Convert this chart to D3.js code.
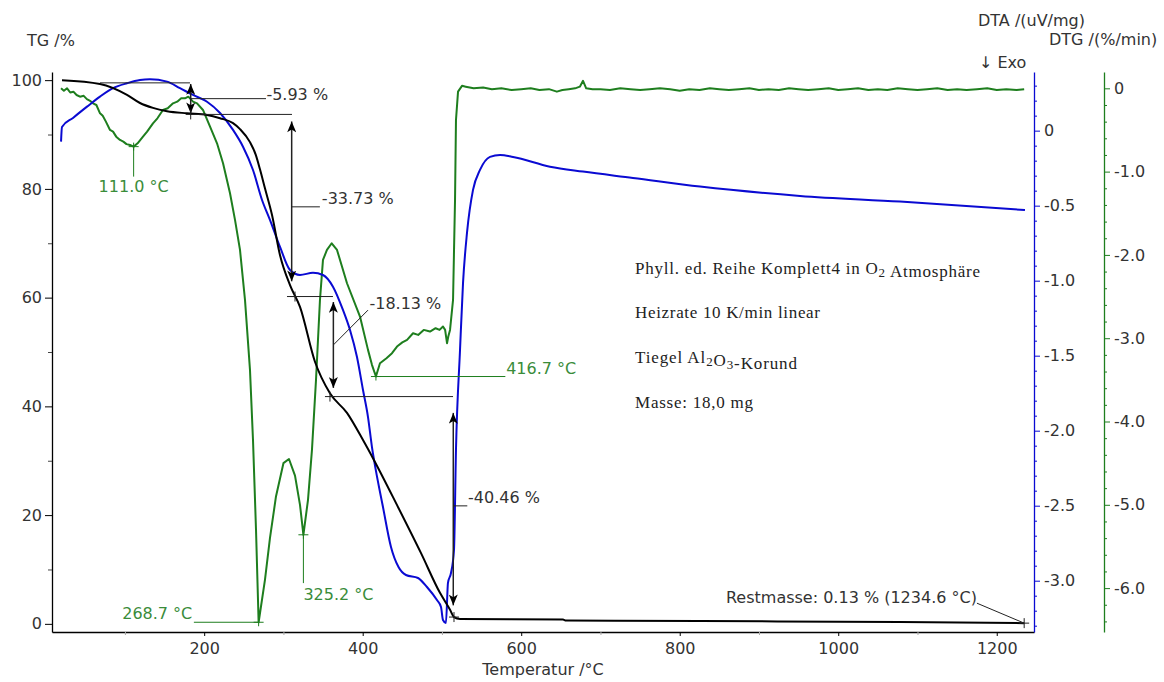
<!DOCTYPE html>
<html><head><meta charset="utf-8">
<script src="https://cdn.jsdelivr.net/npm/d3@7"></script>
<style>body{margin:0;background:#fff}</style>
</head><body>
<svg id="c" width="1164" height="682"></svg>
<script>
// ---------------- DATA ----------------
const tgT = [20.6, 68.6, 102.6, 119, 135.4, 153.1, 178.3, 203.6, 220, 236.4, 245.2, 257.8, 265, 270.4, 276.7, 285.6, 295.7, 308.3, 320.9, 339.8, 358.7, 380.2, 400.4, 414.3, 444.5, 473.6, 497.5, 510.2, 515.2, 522.8, 652.7, 656.5, 825.6, 1077.9, 1234.6];
const tgV = [100.0, 99.3, 97.3, 95.8, 94.9, 94.3, 93.9, 93.6, 93.0, 92.1, 91.0, 88.6, 86.3, 83.6, 80.1, 75.2, 67.8, 62.3, 58.3, 48.2, 42.4, 38.8, 33.8, 30.1, 21.5, 13.0, 5.7, 2.6, 1.25, 0.88, 0.79, 0.61, 0.51, 0.33, 0.13];

const dtaT = [19.4, 20.6, 34.5, 52.2, 68.6, 85, 102.6, 119, 131.6, 153.1, 169.5, 185.9, 203.6, 220, 236.4, 249, 261.6, 273, 283, 295.7, 308.3, 320.9, 337.3, 349.9, 362.5, 375.1, 384, 392.8, 400.4, 406.7, 411.7, 414.3, 425.6, 435.7, 445.2, 454.6, 469.8, 481.1, 493.7, 498.8, 501.3, 505, 507.6, 511.4, 515.2, 517.7, 522.8, 526.6, 531.6, 539.2, 548, 560.6, 573.3, 589.7, 636.3, 677.9, 741, 825.6, 951.8, 1077.9, 1235.6];
const dtaV = [-0.073, 0.025, 0.085, 0.16, 0.227, 0.283, 0.316, 0.338, 0.343, 0.327, 0.283, 0.238, 0.193, 0.118, 0.005, -0.107, -0.262, -0.462, -0.595, -0.775, -0.929, -0.962, -0.947, -0.962, -1.04, -1.195, -1.329, -1.509, -1.729, -1.909, -2.109, -2.195, -2.509, -2.775, -2.909, -2.962, -2.982, -3.042, -3.129, -3.175, -3.262, -3.282, -3.015, -2.949, -2.795, -2.129, -1.462, -1.015, -0.682, -0.395, -0.262, -0.175, -0.162, -0.175, -0.24, -0.273, -0.315, -0.373, -0.435, -0.473, -0.529];

const dtgT = [19.4, 23, 27, 31, 35, 39, 43.3, 48, 52, 56, 59.7, 64, 68.6, 72, 76, 81.2, 85, 89, 93.8, 98, 102, 106.4, 111.0, 116, 122.8, 128, 135.4, 141, 148, 154, 160.7, 166, 171, 175.8, 180, 185.9, 191, 198.5, 207.4, 216.2, 223.8, 232.6, 238.9, 245.2, 251.5, 257.8, 261.6, 265.4, 268.7, 276.7, 283, 290.6, 300, 307, 314.6, 320.9, 325.2, 331, 336, 341.1, 346.1, 349.9, 354.9, 360.9, 367.6, 380.2, 396.6, 406.7, 411.7, 416.7, 421.8, 430, 437, 443.3, 450, 456, 463.5, 470, 477, 484.9, 492, 497, 501.3, 504, 506.4, 508, 510.2, 514, 516.5, 517.7, 520.3, 525.3, 530, 540, 552, 563, 575, 588, 600, 612, 623, 635, 645, 652, 660, 668, 674, 678, 682, 690, 700, 712, 725, 738, 750, 762, 775, 788, 800, 812, 825, 838, 850, 862, 875, 888, 900, 912, 925, 938, 950, 962, 975, 988, 1000, 1012, 1025, 1038, 1050, 1062, 1075, 1088, 1100, 1112, 1125, 1138, 1150, 1162, 1175, 1188, 1200, 1212, 1225, 1234.6];
const dtgV = [0.0, -0.03, 0.0, -0.05, -0.04, -0.08, -0.1, -0.09, -0.13, -0.15, -0.18, -0.2, -0.3, -0.33, -0.4, -0.5, -0.52, -0.58, -0.62, -0.64, -0.67, -0.68, -0.70, -0.66, -0.58, -0.52, -0.42, -0.36, -0.26, -0.24, -0.18, -0.16, -0.12, -0.12, -0.1, -0.16, -0.18, -0.26, -0.46, -0.66, -0.9, -1.26, -1.58, -1.94, -2.54, -3.38, -4.22, -5.3, -6.41, -5.9, -5.4, -4.9, -4.5, -4.45, -4.65, -5.0, -5.36, -4.94, -4.34, -3.5, -2.54, -2.06, -1.94, -1.86, -1.94, -2.34, -2.74, -3.14, -3.32, -3.46, -3.3, -3.24, -3.18, -3.1, -3.05, -3.02, -2.94, -2.96, -2.9, -2.92, -2.88, -2.9, -2.86, -2.9, -3.06, -2.98, -2.9, -2.54, -1.34, -0.38, -0.04, 0.03, 0.02, 0.0, 0.01, -0.01, 0.0, -0.02, -0.01, 0.0, -0.02, -0.01, -0.04, -0.02, -0.01, 0.0, 0.02, 0.09, 0.0, -0.01, -0.01, -0.02, 0.0, -0.01, -0.02, -0.01, 0.0, -0.01, -0.03, -0.01, -0.02, 0.0, -0.01, -0.02, -0.01, 0.0, -0.02, -0.01, -0.02, 0.0, -0.01, -0.02, -0.01, 0.0, -0.02, -0.01, 0.0, -0.02, -0.01, -0.02, 0.0, -0.01, -0.02, -0.01, 0.0, -0.02, -0.01, -0.02, -0.01, 0.0, -0.02, -0.01, -0.02, -0.01];

const xTicks = [200, 400, 600, 800, 1000, 1200];
const tgTicks = [0, 20, 40, 60, 80, 100];
const dtaTicks = [0, -0.5, -1.0, -1.5, -2.0, -2.5, -3.0];
const dtgTicks = [0, -1.0, -2.0, -3.0, -4.0, -5.0, -6.0];

// TG step annotations
const stepLabels = ["-5.93 %", "-33.73 %", "-18.13 %", "-40.46 %"];
const stepArrowT = [183, 310.4, 363, 514.3];
const stepArrowTop = [99.3, 92.4, 59.2, 38.8];
const stepArrowBot = [93.9, 63.0, 43.4, 3.4];
const refLines = [[68.6, 182.1, 99.5], [182.1, 310.8, 93.7], [304.5, 362.5, 60.2], [358.7, 514, 41.8]];
const leaders = [[183, 96.6, 278, 96.6], [310.4, 76.7, 346, 76.7], [363, 51.3, 406.7, 57.7], [514.3, 21.7, 532, 21.7]];
const labelPos = [[278.5, 97.4], [348.5, 78.2], [408.5, 58.9], [533, 23.2]];
const tgMarkT = [183, 314.6, 358.7, 515.2, 1234.6];
const tgMarkV = [93.7, 60.2, 41.8, 1.25, 0.13];

// DTG peak annotations
const peakT = [111.0, 268.7, 325.2, 416.7];
const peakV = [-0.70, -6.41, -5.36, -3.46];
const peakLabels = ["111.0 °C", "268.7 °C", "325.2 °C", "416.7 °C"];

// ---------------- CHART ----------------
const svg = d3.select("#c");
const FONT = "'DejaVu Sans', Verdana, sans-serif";
const x = d3.scaleLinear().domain([8, 1247]).range([52, 1034]);
const yTG = d3.scaleLinear().domain([-1.5, 101.5]).range([632, 72]);
const yDTA = d3.scaleLinear().domain([-3.342, 0.391]).range([632, 72]);
const yDTG = d3.scaleLinear().domain([-6.527, 0.196]).range([632, 72]);

const cBlack = "#000", cBlue = "#0a0ad2", cGreen = "#1e7e1e", cGreenTxt = "#3a8c3a", cTxt = "#333";
const fmt = v => v === 0 ? "0" : v.toFixed(1);

function styleAxis(g, color) {
  g.selectAll(".domain").attr("stroke", color).attr("stroke-width", 1.3);
  g.selectAll(".tick line").attr("stroke", color);
  g.selectAll(".tick text").attr("fill", cTxt).style("font-family", FONT).style("font-size", "16px");
}

// X axis
const gx = svg.append("g").attr("transform", "translate(0,632)")
  .call(d3.axisBottom(x).tickValues(xTicks).tickSize(4).tickSizeOuter(0).tickPadding(7).tickFormat(d3.format("d")));
styleAxis(gx, "#000");
svg.append("g").attr("transform", "translate(0,632)")
  .call(d3.axisBottom(x).tickValues([100, 300, 500, 700, 900, 1100]).tickSize(3).tickFormat(""))
  .call(g => { g.select(".domain").remove(); g.selectAll("line").attr("stroke", "#aaa"); });

// Left TG axis
const gl = svg.append("g").attr("transform", "translate(52,0)")
  .call(d3.axisLeft(yTG).tickValues(tgTicks).tickSize(7).tickSizeOuter(0).tickPadding(3));
styleAxis(gl, "#000");
svg.append("g").attr("transform", "translate(52,0)")
  .call(d3.axisLeft(yTG).tickValues([10, 30, 50, 70, 90]).tickSize(4).tickFormat(""))
  .call(g => { g.select(".domain").remove(); g.selectAll("line").attr("stroke", "#444"); });

// DTA axis (blue)
const gb = svg.append("g").attr("transform", "translate(1034,0)")
  .call(d3.axisRight(yDTA).tickValues(dtaTicks).tickSize(6).tickSizeOuter(0).tickPadding(4).tickFormat(fmt));
styleAxis(gb, cBlue);
svg.append("g").attr("transform", "translate(1034,0)")
  .call(d3.axisRight(yDTA).tickValues(d3.range(0.3, -3.35, -0.1).map(v => +v.toFixed(1)).filter(v => Math.round(v * 10) % 5 !== 0)).tickSize(3).tickFormat(""))
  .call(g => { g.select(".domain").remove(); g.selectAll("line").attr("stroke", cBlue); });

// DTG axis (green)
const gg = svg.append("g").attr("transform", "translate(1104,0)")
  .call(d3.axisRight(yDTG).tickValues(dtgTicks).tickSize(6).tickSizeOuter(0).tickPadding(4).tickFormat(fmt));
styleAxis(gg, cGreen);
svg.append("g").attr("transform", "translate(1104,0)")
  .call(d3.axisRight(yDTG).tickValues(d3.range(0, -6.6, -0.2).map(v => +v.toFixed(1)).filter(v => Math.round(v * 10) % 10 !== 0)).tickSize(3).tickFormat(""))
  .call(g => { g.select(".domain").remove(); g.selectAll("line").attr("stroke", cGreen); });

// axis titles
const t = (txt, px, py, anchor, color) => svg.append("text").attr("x", px).attr("y", py)
  .attr("text-anchor", anchor || "start").attr("fill", color || cTxt)
  .style("font-family", FONT).style("font-size", "16px").text(txt);
t("TG /%", 27, 46);
t("DTA /(uV/mg)", 978, 26);
t("DTG /(%/min)", 1049, 45);
t("\u2193 Exo", 979, 68);
t("Temperatur /°C", 543, 675, "middle");

// arrow marker
const defs = svg.append("defs");
defs.append("marker").attr("id", "ah").attr("viewBox", "0 0 12 10").attr("refX", 12).attr("refY", 5)
  .attr("markerWidth", 12).attr("markerHeight", 9).attr("markerUnits", "userSpaceOnUse")
  .attr("orient", "auto-start-reverse")
  .append("path").attr("d", "M0,0 L12,5 L0,10 L3,5 z").attr("fill", "#000");

// curves
const line = (ys) => d3.line().x(d => x(d[0])).y(d => ys(d[1]));
svg.append("path").datum(d3.zip(dtgT, dtgV)).attr("d", line(yDTG))
  .attr("fill", "none").attr("stroke", cGreen).attr("stroke-width", 2).attr("stroke-linejoin", "round");
svg.append("path").datum(d3.zip(dtaT, dtaV)).attr("d", line(yDTA).curve(d3.curveMonotoneX))
  .attr("fill", "none").attr("stroke", cBlue).attr("stroke-width", 2);
svg.append("path").datum(d3.zip(tgT, tgV)).attr("d", line(yTG).curve(d3.curveMonotoneX))
  .attr("fill", "none").attr("stroke", cBlack).attr("stroke-width", 2);

// TG step annotations
const ann = svg.append("g").attr("stroke", "#222").attr("stroke-width", 1);
refLines.forEach(r => ann.append("line").attr("x1", x(r[0])).attr("x2", x(r[1])).attr("y1", yTG(r[2])).attr("y2", yTG(r[2])));
stepArrowT.forEach((tt, i) => ann.append("line").attr("x1", x(tt)).attr("x2", x(tt))
  .attr("y1", yTG(stepArrowTop[i])).attr("y2", yTG(stepArrowBot[i])).attr("stroke-width", 1.5)
  .attr("marker-start", "url(#ah)").attr("marker-end", "url(#ah)"));
leaders.forEach(l => ann.append("line").attr("x1", x(l[0])).attr("y1", yTG(l[1])).attr("x2", x(l[2])).attr("y2", yTG(l[3])));
tgMarkT.forEach((tt, i) => {
  ann.append("line").attr("x1", x(tt) - 5).attr("x2", x(tt) + 5).attr("y1", yTG(tgMarkV[i])).attr("y2", yTG(tgMarkV[i]));
  ann.append("line").attr("x1", x(tt)).attr("x2", x(tt)).attr("y1", yTG(tgMarkV[i]) - 5).attr("y2", yTG(tgMarkV[i]) + 5);
});
stepLabels.forEach((s, i) => svg.append("text").attr("x", x(labelPos[i][0])).attr("y", yTG(labelPos[i][1]))
  .attr("dy", "0.35em").attr("fill", cTxt).style("font-family", FONT).style("font-size", "16px").text(s));
// Restmasse
ann.append("line").attr("x1", x(1175)).attr("y1", yTG(3.8)).attr("x2", x(1234.6)).attr("y2", yTG(0.13));
svg.append("text").attr("x", x(1175)).attr("y", yTG(4.9)).attr("dy", "0.35em").attr("text-anchor", "end")
  .attr("fill", cTxt).style("font-family", FONT).style("font-size", "16px").text("Restmasse: 0.13 % (1234.6 °C)");

// DTG peak annotations
const pg = svg.append("g").attr("stroke", cGreen).attr("stroke-width", 1);
peakT.forEach((tt, i) => {
  const px = x(tt), py = yDTG(peakV[i]);
  pg.append("line").attr("x1", px - 5).attr("x2", px + 5).attr("y1", py).attr("y2", py);
  pg.append("line").attr("x1", px).attr("x2", px).attr("y1", py - 4).attr("y2", py + 4);
});
pg.append("line").attr("x1", x(peakT[0])).attr("x2", x(peakT[0])).attr("y1", yDTG(peakV[0])).attr("y2", yDTG(-1.06));
pg.append("line").attr("x1", x(peakT[1])).attr("x2", x(187)).attr("y1", yDTG(peakV[1])).attr("y2", yDTG(peakV[1]));
pg.append("line").attr("x1", x(peakT[2])).attr("x2", x(peakT[2])).attr("y1", yDTG(peakV[2])).attr("y2", yDTG(-5.94));
pg.append("line").attr("x1", x(peakT[3])).attr("x2", x(580)).attr("y1", yDTG(peakV[3])).attr("y2", yDTG(peakV[3]));
const gl2 = (i, tx, ty, anchor) => svg.append("text").attr("x", x(tx)).attr("y", yDTG(ty)).attr("dy", "0.35em")
  .attr("text-anchor", anchor).attr("fill", cGreenTxt).style("font-family", FONT).style("font-size", "16px").text(peakLabels[i]);
gl2(0, 111.0, -1.18, "middle");
gl2(1, 185, -6.3, "end");
gl2(2, 325.2, -6.08, "start");
gl2(3, 581, -3.36, "start");

// info text block
const SERIF = "'Liberation Serif', 'Times New Roman', serif";
function info(py, parts, len) {
  const tx = svg.append("text").attr("x", 635).attr("y", py).attr("fill", "#222")
    .style("font-family", SERIF).style("font-size", "17px");
  parts.forEach(p => {
    if (typeof p === "string") tx.append("tspan").text(p);
    else tx.append("tspan").attr("dy", p.dy).style("font-size", "13px").text(p.s);
  });
  tx.attr("textLength", len).attr("lengthAdjust", "spacing");
}
info(274, ["Phyll. ed. Reihe Komplett4 in O", {s: "2", dy: 3}, {s: "", dy: -3}, " Atmosphäre"], 345);
info(318, ["Heizrate 10 K/min linear"], 185);
info(363, ["Tiegel Al", {s: "2", dy: 3}, {s: "", dy: -3}, "O", {s: "3", dy: 3}, {s: "", dy: -3}, "-Korund"], 162);
info(408, ["Masse: 18,0 mg"], 118);
</script>
</body></html>
